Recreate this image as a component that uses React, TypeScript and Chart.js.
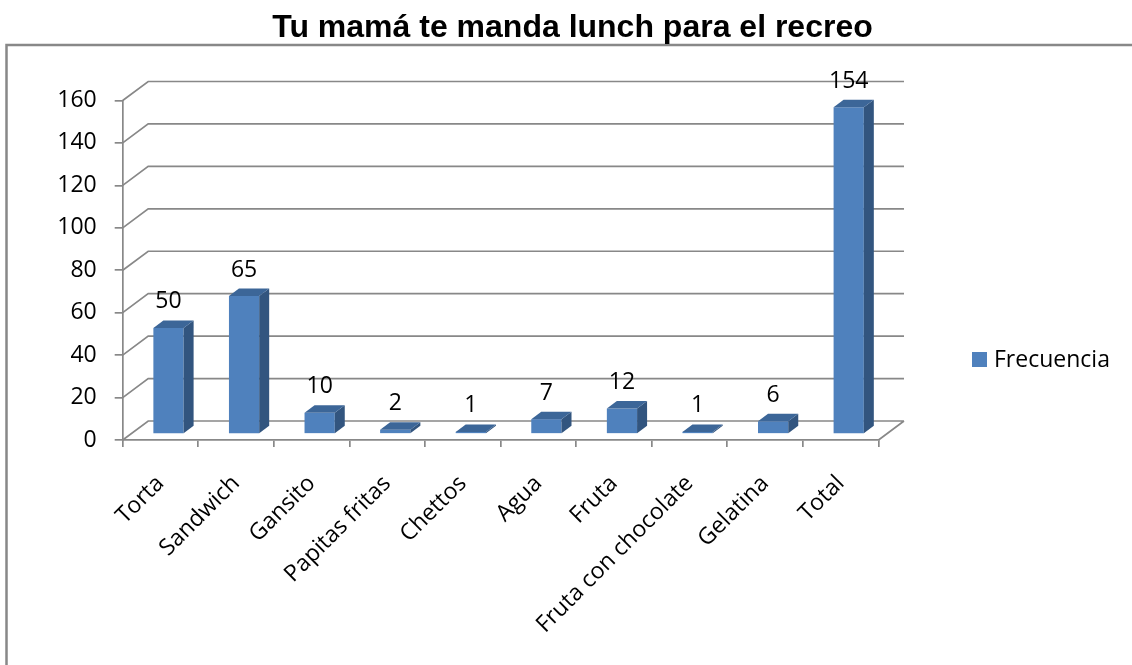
import React, { useEffect, useRef } from "react";
import { Chart, registerables } from "chart.js";

Chart.register(...registerables);

const categories = [
  "Torta",
  "Sandwich",
  "Gansito",
  "Papitas fritas",
  "Chettos",
  "Agua",
  "Fruta",
  "Fruta con chocolate",
  "Gelatina",
  "Total",
];
const frecuencia = [50, 65, 10, 2, 1, 7, 12, 1, 6, 154];
const seriesName = "Frecuencia";
const titleText = "Tu mamá te manda lunch para el recreo";
const yTicksMin = 0;
const yTicksMax = 160;
const yTicksStep = 20;

const FRONT = "#4F81BD";
const SIDE = "#32557F";
const TOP = "#3C6698";
const GRID = "#888888";
const FONT = "'Open Sans', sans-serif";
const FS = 23;

// 3D geometry (pixels)
const WALL_DX = 25.5;
const WALL_DY = -19;
const BAR_SHIFT_X = 8;
const BAR_SHIFT_Y = -6;
const BAR_DX = 10;
const BAR_DY = -7.5;

const threeD = {
  id: "threeD",
  beforeDraw(chart: any) {
    const { ctx } = chart;
    ctx.save();
    // frame
    ctx.strokeStyle = "#888888";
    ctx.lineWidth = 2.5;
    ctx.strokeRect(6.5, 45, 1200, 700);
    // title
    ctx.fillStyle = "#000";
    ctx.font = "bold 32px 'Liberation Sans', Arial, sans-serif";
    ctx.textAlign = "center";
    ctx.textBaseline = "middle";
    ctx.fillText(titleText, 572.5, 28.5);
    // legend
    ctx.fillStyle = FRONT;
    ctx.fillRect(972, 352, 15, 15);
    ctx.fillStyle = "#000";
    ctx.font = `${FS}px ${FONT}`;
    ctx.textAlign = "left";
    ctx.fillText(seriesName, 994, 360);
    ctx.restore();
  },
  beforeDatasetsDraw(chart: any) {
    const { ctx, chartArea } = chart;
    const y = chart.scales.y;
    ctx.save();
    ctx.strokeStyle = GRID;
    ctx.lineWidth = 1.7;
    ctx.beginPath();
    y.ticks.forEach((t: any) => {
      const py = y.getPixelForValue(t.value);
      ctx.moveTo(chartArea.left, py);
      ctx.lineTo(chartArea.left + WALL_DX, py + WALL_DY);
      ctx.lineTo(chartArea.right + WALL_DX, py + WALL_DY);
    });
    const p0 = y.getPixelForValue(0);
    ctx.moveTo(chartArea.right, p0);
    ctx.lineTo(chartArea.right + WALL_DX, p0 + WALL_DY);
    ctx.stroke();
    ctx.restore();
    ctx.save();
    ctx.translate(BAR_SHIFT_X, BAR_SHIFT_Y);
  },
  afterDatasetsDraw(chart: any) {
    const { ctx } = chart;
    const meta = chart.getDatasetMeta(0);
    meta.data.forEach((bar: any, i: number) => {
      const L = bar.x - bar.width / 2;
      const R = bar.x + bar.width / 2;
      const T = bar.y;
      const B = bar.base;
      ctx.fillStyle = SIDE;
      ctx.beginPath();
      ctx.moveTo(R, T);
      ctx.lineTo(R + BAR_DX, T + BAR_DY);
      ctx.lineTo(R + BAR_DX, B + BAR_DY);
      ctx.lineTo(R, B);
      ctx.closePath();
      ctx.fill();
      ctx.fillStyle = TOP;
      ctx.beginPath();
      ctx.moveTo(L, T);
      ctx.lineTo(L + BAR_DX, T + BAR_DY);
      ctx.lineTo(R + BAR_DX, T + BAR_DY);
      ctx.lineTo(R, T);
      ctx.closePath();
      ctx.fill();
      ctx.fillStyle = "#000";
      ctx.font = `${FS}px ${FONT}`;
      ctx.textAlign = "center";
      ctx.textBaseline = "middle";
      ctx.fillText(String(frecuencia[i]), bar.x, T - 26);
    });
    ctx.restore();
  },
};

export default function App() {
  const ref = useRef<HTMLCanvasElement>(null);
  useEffect(() => {
    if (!ref.current) return;
    const chart = new Chart(ref.current, {
      type: "bar",
      data: {
        labels: categories,
        datasets: [
          {
            label: seriesName,
            data: frecuencia,
            backgroundColor: FRONT,
            borderWidth: 0,
            barPercentage: 0.4,
            categoryPercentage: 1,
            clip: false as any,
          },
        ],
      },
      options: {
        responsive: false,
        animation: false,
        devicePixelRatio: 1,
        layout: { padding: { top: 100.5, right: 253.5, bottom: 0, left: 0 } },
        plugins: {
          legend: { display: false },
          title: { display: false },
          tooltip: { enabled: false },
        },
        scales: {
          x: {
            afterFit: (s: any) => {
              s.height = 225;
            },
            grid: {
              offset: true,
              drawOnChartArea: false,
              drawTicks: true,
              tickLength: 7,
              color: GRID,
              lineWidth: 1.7,
            },
            border: { display: true, color: GRID, width: 1.7 },
            ticks: {
              autoSkip: false,
              minRotation: 45,
              maxRotation: 45,
              padding: 23,
              color: "#000",
              font: { family: FONT, size: FS },
            },
          },
          y: {
            min: yTicksMin,
            max: yTicksMax,
            afterFit: (s: any) => {
              s.width = 122.7;
            },
            grid: {
              drawOnChartArea: false,
              drawTicks: true,
              tickLength: 8,
              color: GRID,
              lineWidth: 1.7,
            },
            border: { display: true, color: GRID, width: 1.7 },
            ticks: {
              stepSize: yTicksStep,
              padding: 18,
              color: "#000",
              font: { family: FONT, size: FS },
            },
          },
        },
      },
      plugins: [threeD],
    });
    return () => chart.destroy();
  }, []);
  return (
    <div style={{ position: "absolute", left: 0, top: 0, width: 1132, height: 665, background: "#fff" }}>
      <canvas ref={ref} width={1132} height={665} />
    </div>
  );
}
